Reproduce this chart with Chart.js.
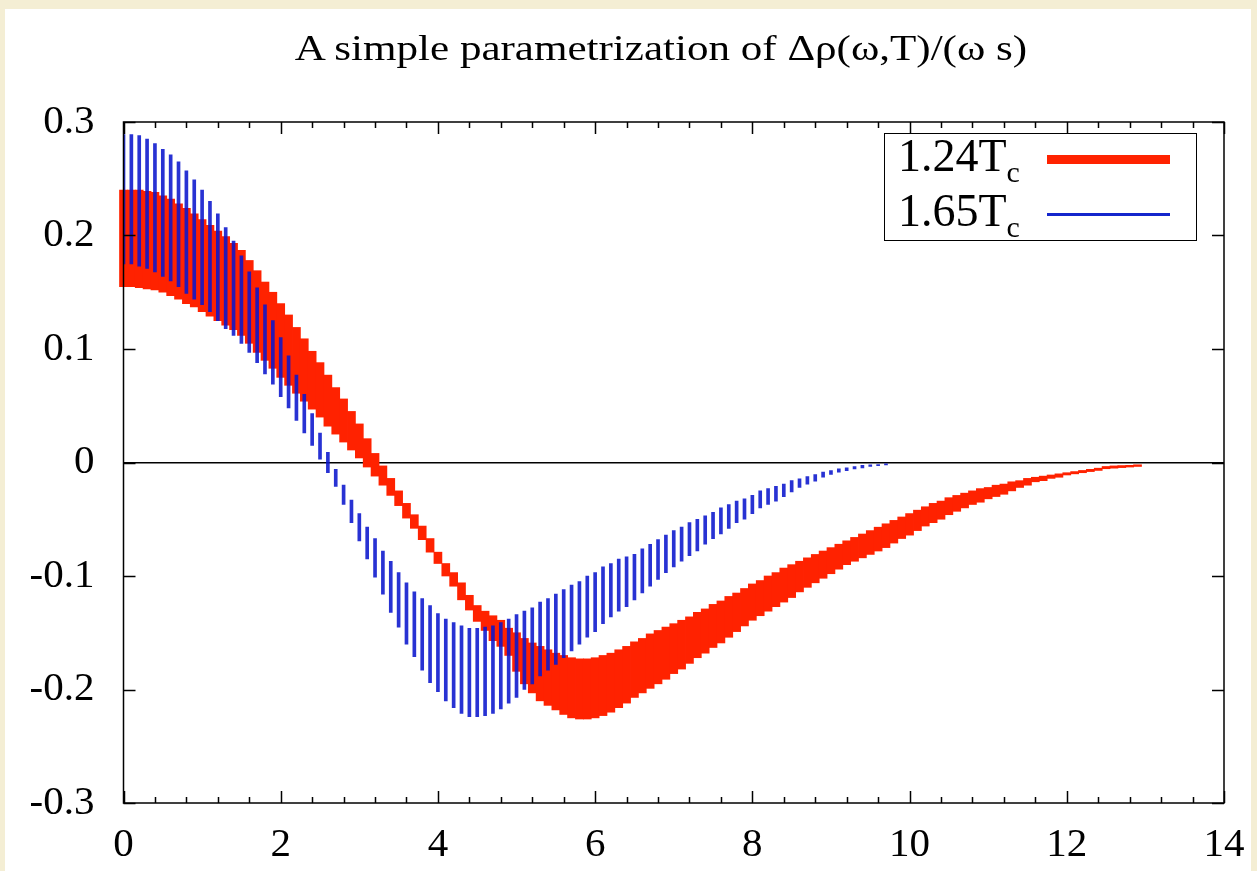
<!DOCTYPE html>
<html>
<head>
<meta charset="utf-8">
<script src="https://cdn.jsdelivr.net/npm/chart.js@4.4.1/dist/chart.umd.min.js"></script>
<style>
  body { margin: 0; background: #f4eed4; }
  #paper { position: absolute; left: 5px; top: 9px; width: 1246px; height: 862px; background: #fff; }
  #wrap { position: absolute; left: 0; top: 0; width: 1257px; height: 871px; }
  #title { position: absolute; left: 161px; top: 28px; width: 1000px; text-align: center;
           font-family: 'Liberation Serif', serif; font-size: 35px; line-height: 42px; color: #000;
           transform: scaleX(1.23); transform-origin: 50% 50%; white-space: nowrap; }
  #key { position: absolute; left: 884px; top: 133px; width: 311px; height: 106px;
         border: 1.5px solid #000; background: #fff;
         font-family: 'Liberation Serif', serif; font-size: 46px; line-height: 46px; color: #000; }
  #key .t { position: absolute; left: 13px; white-space: nowrap; }
  #key sub { font-size: 0.65em; vertical-align: -11px; line-height: 0; }
  #key .ln { position: absolute; left: 162px; width: 123px; }
</style>
</head>
<body>
<div id="paper"></div>
<div id="wrap"><canvas id="myChart"></canvas></div>
<div id="title">A simple parametrization of Δρ(ω,T)/(ω s)</div>
<div id="key">
  <div class="t" style="top:-1px">1.24T<sub>c</sub></div>
  <div class="ln" style="top:21px;height:9px;background:#ff2200"></div>
  <div class="t" style="top:54px">1.65T<sub>c</sub></div>
  <div class="ln" style="top:79px;height:3px;background:#1426cc"></div>
</div>
<script>
// omega grid step of the error bars
const omegaStep = 0.1;

// 1.24 Tc band (upper / lower edge), omega = 0 .. 12.9
const redHi = [
  0.240, 0.240, 0.240, 0.239, 0.238, 0.235, 0.232, 0.228, 0.224, 0.219,
  0.214, 0.209, 0.204, 0.199, 0.193, 0.187, 0.178, 0.169, 0.159, 0.150,
  0.140, 0.130, 0.119, 0.109, 0.098, 0.088, 0.077, 0.066, 0.056, 0.045,
  0.034, 0.021, 0.008, -0.003, -0.014, -0.025, -0.036, -0.046, -0.056, -0.067,
  -0.079, -0.089, -0.097, -0.106, -0.117, -0.126, -0.131, -0.135, -0.139, -0.146,
  -0.150, -0.155, -0.159, -0.162, -0.165, -0.168, -0.170, -0.172, -0.173, -0.173,
  -0.172, -0.170, -0.168, -0.165, -0.162, -0.158, -0.155, -0.151, -0.148, -0.145,
  -0.142, -0.139, -0.136, -0.132, -0.129, -0.125, -0.122, -0.118, -0.115, -0.111,
  -0.107, -0.104, -0.100, -0.097, -0.093, -0.090, -0.087, -0.084, -0.081, -0.078,
  -0.075, -0.072, -0.069, -0.066, -0.063, -0.060, -0.057, -0.054, -0.051, -0.048,
  -0.045, -0.042, -0.039, -0.036, -0.034, -0.031, -0.029, -0.027, -0.025, -0.023,
  -0.022, -0.020, -0.019, -0.017, -0.016, -0.014, -0.013, -0.012, -0.011, -0.010,
  -0.009, -0.008, -0.007, -0.006, -0.005, -0.0035, -0.003, -0.0027, -0.0025, -0.002
];
const redLo = [
  0.155, 0.155, 0.154, 0.153, 0.152, 0.150, 0.147, 0.144, 0.140, 0.137,
  0.133, 0.129, 0.125, 0.121, 0.117, 0.112, 0.105, 0.097, 0.090, 0.083,
  0.075, 0.068, 0.061, 0.054, 0.047, 0.040, 0.032, 0.025, 0.018, 0.011,
  0.004, -0.004, -0.012, -0.020, -0.029, -0.038, -0.049, -0.058, -0.068, -0.079,
  -0.089, -0.100, -0.109, -0.121, -0.130, -0.140, -0.148, -0.157, -0.162, -0.170,
  -0.184, -0.195, -0.203, -0.210, -0.214, -0.218, -0.222, -0.225, -0.226, -0.226,
  -0.225, -0.223, -0.220, -0.216, -0.212, -0.207, -0.203, -0.199, -0.195, -0.191,
  -0.186, -0.182, -0.177, -0.172, -0.168, -0.163, -0.159, -0.154, -0.149, -0.144,
  -0.139, -0.135, -0.131, -0.127, -0.123, -0.119, -0.114, -0.110, -0.106, -0.102,
  -0.098, -0.094, -0.090, -0.087, -0.084, -0.081, -0.078, -0.075, -0.071, -0.067,
  -0.064, -0.060, -0.056, -0.053, -0.050, -0.046, -0.043, -0.040, -0.037, -0.035,
  -0.032, -0.030, -0.028, -0.025, -0.022, -0.020, -0.017, -0.016, -0.014, -0.013,
  -0.011, -0.010, -0.009, -0.008, -0.007, -0.0055, -0.005, -0.0045, -0.004, -0.0035
];

// 1.65 Tc band, omega = 0 .. 9.7
const blueHi = [
  0.289, 0.289, 0.288, 0.285, 0.281, 0.276, 0.271, 0.265, 0.257, 0.249,
  0.240, 0.230, 0.219, 0.207, 0.195, 0.182, 0.168, 0.154, 0.139, 0.125,
  0.110, 0.094, 0.077, 0.060, 0.043, 0.026, 0.009, -0.006, -0.020, -0.033,
  -0.045, -0.057, -0.067, -0.078, -0.087, -0.097, -0.106, -0.114, -0.120, -0.126,
  -0.133, -0.138, -0.141, -0.144, -0.146, -0.146, -0.145, -0.144, -0.141, -0.138,
  -0.134, -0.131, -0.128, -0.123, -0.120, -0.116, -0.112, -0.108, -0.105, -0.100,
  -0.097, -0.092, -0.089, -0.085, -0.083, -0.081, -0.076, -0.072, -0.068, -0.064,
  -0.060, -0.057, -0.053, -0.050, -0.047, -0.044, -0.040, -0.037, -0.034, -0.032,
  -0.029, -0.025, -0.023, -0.021, -0.019, -0.016, -0.0144, -0.0124, -0.0106, -0.0085,
  -0.0071, -0.0056, -0.0047, -0.0035, -0.0026, -0.002, -0.0018, -0.0012
];
const blueLo = [
  0.175, 0.175, 0.173, 0.171, 0.168, 0.164, 0.160, 0.155, 0.149, 0.144,
  0.139, 0.133, 0.125, 0.118, 0.112, 0.105, 0.097, 0.088, 0.078, 0.069,
  0.058, 0.048, 0.037, 0.026, 0.015, 0.003, -0.009, -0.021, -0.037, -0.053,
  -0.069, -0.085, -0.101, -0.116, -0.132, -0.145, -0.160, -0.171, -0.183, -0.194,
  -0.202, -0.210, -0.216, -0.221, -0.224, -0.224, -0.223, -0.221, -0.217, -0.212,
  -0.207, -0.200, -0.195, -0.188, -0.183, -0.178, -0.172, -0.166, -0.160, -0.154,
  -0.149, -0.142, -0.136, -0.131, -0.127, -0.121, -0.115, -0.109, -0.103, -0.097,
  -0.092, -0.087, -0.082, -0.078, -0.072, -0.067, -0.063, -0.058, -0.053, -0.050,
  -0.045, -0.040, -0.037, -0.034, -0.030, -0.026, -0.022, -0.019, -0.0165, -0.0129,
  -0.0106, -0.0085, -0.0071, -0.0056, -0.0047, -0.0035, -0.0029, -0.0022
];

const xTicks = [0, 2, 4, 6, 8, 10, 12, 14];
const yTicks = [-0.3, -0.2, -0.1, 0, 0.1, 0.2, 0.3];

const band = (hi, lo) => hi.map((h, i) => ({ x: i * omegaStep, y: [lo[i], h] }));

// gnuplot-like frame with inward ticks on all four sides
const frame = {
  id: 'frame',
  afterDatasetsDraw(chart) {
    const { ctx, chartArea: a, scales: { x, y } } = chart;
    ctx.save();
    ctx.strokeStyle = '#000';
    ctx.lineWidth = 1.5;
    ctx.beginPath();
    for (let v = 0; v <= 14.001; v += 0.4) {
      const major = xTicks.some(t => Math.abs(t - v) < 1e-6);
      const len = major ? 12 : 6;
      const px = Math.round(x.getPixelForValue(v)) + 0.5;
      ctx.moveTo(px, a.bottom); ctx.lineTo(px, a.bottom - len);
      ctx.moveTo(px, a.top); ctx.lineTo(px, a.top + len);
    }
    xTicks.forEach(v => {
      const px = Math.round(x.getPixelForValue(v)) + 0.5;
      ctx.moveTo(px, a.bottom); ctx.lineTo(px, a.bottom - 12);
      ctx.moveTo(px, a.top); ctx.lineTo(px, a.top + 12);
    });
    yTicks.forEach(v => {
      const py = Math.round(y.getPixelForValue(v)) + 0.5;
      ctx.moveTo(a.left, py); ctx.lineTo(a.left + 12, py);
      ctx.moveTo(a.right, py); ctx.lineTo(a.right - 12, py);
    });
    ctx.stroke();
    ctx.strokeRect(a.left, a.top, a.right - a.left, a.bottom - a.top);
    ctx.restore();
  }
};

const config = {
  type: 'bar',
  data: {
    datasets: [{
      label: '1.24Tc',
      data: band(redHi, redLo),
      backgroundColor: '#ff2200',
      borderWidth: 0,
      barThickness: 8,
      grouped: false,
      clip: false,
      order: 1
    }, {
      label: '1.65Tc',
      data: band(blueHi, blueLo),
      backgroundColor: 'rgba(10, 22, 205, 0.88)',
      borderWidth: 0,
      barThickness: 3,
      grouped: false,
      order: 0
    }]
  },
  options: {
    responsive: true,
    maintainAspectRatio: false,
    animation: false,
    layout: { padding: { left: 0, right: 0, top: 122, bottom: 0 } },
    plugins: {
      legend: { display: false },
      tooltip: { enabled: false },
      title: { display: false }
    },
    scales: {
      x: {
        type: 'linear',
        min: 0,
        max: 14,
        offset: false,
        grid: { display: false },
        border: { display: false },
        ticks: {
          stepSize: 2,
          color: '#000',
          padding: 10,
          maxRotation: 0,
          font: { family: "'Liberation Serif', serif", size: 41 }
        },
        afterFit: s => { s.height = 68; s.paddingRight = 33; }
      },
      y: {
        min: -0.3,
        max: 0.3,
        grid: {
          drawTicks: false,
          lineWidth: 1.5,
          color: c => (c.tick && Math.abs(c.tick.value) < 1e-9) ? '#000' : 'rgba(0,0,0,0)'
        },
        border: { display: false },
        ticks: {
          stepSize: 0.1,
          color: '#000',
          padding: 29,
          font: { family: "'Liberation Serif', serif", size: 41 },
          callback: v => String(Math.round(v * 10) / 10)
        },
        afterFit: s => { s.width = 123.5; }
      }
    }
  },
  plugins: [frame]
};

const myChart = new Chart(document.getElementById('myChart'), config);
</script>
</body>
</html>
